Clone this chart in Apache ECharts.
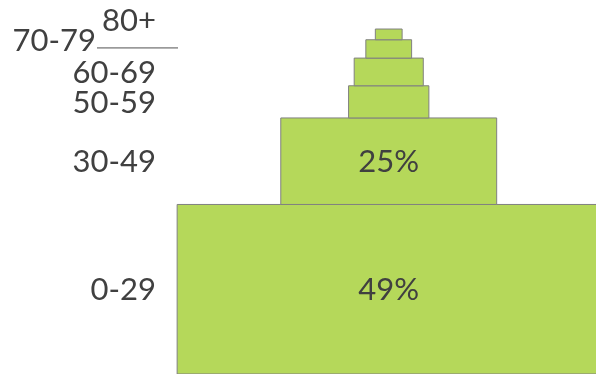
<!DOCTYPE html>
<html>
<head>
<meta charset="utf-8">
<script src="https://cdn.jsdelivr.net/npm/echarts@6/dist/echarts.min.js"></script>
<style>html,body{margin:0;padding:0;background:#fff;}#c{width:596px;height:374px;}</style>
</head>
<body>
<div id="c"></div>
<script>
const categories = ['0-29', '30-49', '50-59', '60-69', '70-79', '80+'];
const shares = [49, 25, 9.3, 8, 5.3, 3.1];
const labelThreshold = 20;

const starts = [];
let acc = 0;
shares.forEach(v => { starts.push(acc); acc += v; });
const seriesData = shares.map((v, i) => [starts[i], v, i]);

const FONT = '31px Lato';
const TEXT = '#404040';

const chart = echarts.init(document.getElementById('c'), null, {renderer: 'canvas'});
chart.setOption({
  animation: false,
  grid: {left: 121, right: 0, top: 1, bottom: -1},
  xAxis: {
    type: 'value', min: -31, max: 24, position: 'top',
    axisLine: {show: true, lineStyle: {color: '#aaaaaa', width: 1}},
    axisTick: {show: false}, axisLabel: {show: false}, splitLine: {show: false}
  },
  yAxis: {
    type: 'value', min: 0, max: 107.8, show: false, splitLine: {show: false}
  },
  series: [{
    type: 'custom',
    data: seriesData,
    clip: false,
    renderItem: function (params, api) {
      const start = api.value(0), val = api.value(1), idx = api.value(2);
      const bl = api.coord([-val / 2, start]);
      const tr = api.coord([val / 2, start + val]);
      const cy = (bl[1] + tr[1]) / 2;
      const cx = (bl[0] + tr[0]) / 2;
      const children = [{
        type: 'rect',
        shape: {x: bl[0], y: tr[1], width: tr[0] - bl[0], height: bl[1] - tr[1]},
        style: {fill: '#b5d85a', stroke: '#808080', lineWidth: 1}
      }];
      if (val >= labelThreshold) {
        children.push({
          type: 'text',
          style: {text: Math.round(val) + '%', x: cx, y: cy + 1, align: 'center', verticalAlign: 'middle', fill: TEXT, font: FONT}
        });
      }
      let lx = 156, ly = cy + 1;
      if (idx === 4) { lx = 96; ly = cy - 8; }
      if (idx === 5) {
        ly = cy - 13;
        const prevMid = api.coord([0, starts[4] + shares[4] / 2])[1];
        children.push({
          type: 'line',
          shape: {x1: 97, y1: prevMid - 1, x2: 178, y2: prevMid - 1},
          style: {stroke: '#505050', lineWidth: 1}
        });
      }
      children.push({
        type: 'text',
        style: {text: categories[idx], x: lx, y: ly, align: 'right', verticalAlign: 'middle', fill: TEXT, font: FONT}
      });
      return {type: 'group', children: children};
    }
  }]
});
</script>
</body>
</html>
